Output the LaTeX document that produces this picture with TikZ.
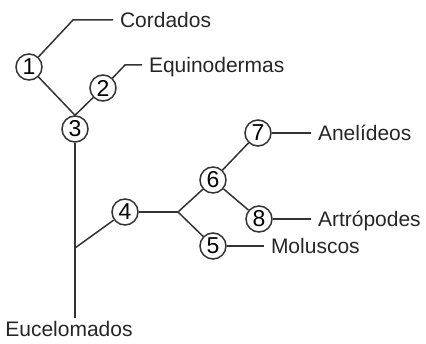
\documentclass[tikz,border=0pt]{standalone}
\usepackage{fontspec}
\setmainfont{Liberation Sans}
\usetikzlibrary{positioning}

\begin{document}
\begin{tikzpicture}[
      x=1pt, y=-1pt,
      lnk/.style={draw=black!80, line width=1.5pt},
      num/.style={circle, draw=black!80, line width=1.5pt, minimum size=26pt,
        inner sep=0pt, font=\fontsize{23}{23}\selectfont},
      grp/.style={anchor=west, inner sep=0pt, outer xsep=7pt, text height=15pt,
        text depth=0pt, font=\fontsize{21}{25}\selectfont, text=black!85}
    ]
      \useasboundingbox (0,0) rectangle (426,344);
      % numbered nodes of the tree
      \node[num] (c1) at (29, 67) {1};
      \node[num] (c2) at (103, 88) {2};
      \node[num] (c3) at (75, 129) {3};
      \node[num] (c4) at (125, 212) {4};
      \node[num] (c5) at (213, 246) {5};
      \node[num] (c6) at (213, 180) {6};
      \node[num] (c7) at (258, 133) {7};
      \node[num] (c8) at (259, 219) {8};
      \coordinate (k1) at (73, 20);
      \coordinate (k2) at (125, 65);
      \coordinate (j3) at (75, 248);
      \coordinate (j4) at (178, 212);
      % group names
      \node[grp] (cord) at (113, 20) {Cordados};
      \node[grp] (equi) at (142, 65) {Equinodermas};
      \node[grp] (anel) at (311, 133) {Anelídeos};
      \node[grp] (artr) at (311, 219) {Artrópodes};
      \node[grp] (molu) at (264, 246) {Moluscos};
      \node[grp, anchor=north, outer sep=4pt] (euce) at (69, 318) {Eucelomados};
      % branches
      \draw[lnk] (c1) -- (k1) -- (cord.west);
      \draw[lnk] (c2) -- (k2) -- (equi.west);
      \draw[lnk] (c1) -- (c3.north) -- (c2);
      \draw[lnk] (c3) -- (c3 |- euce.north);
      \draw[lnk] (j3) -- (c4);
      \draw[lnk] (c4) -- (j4);
      \draw[lnk] (j4) -- (c6);
      \draw[lnk] (j4) -- (c5);
      \draw[lnk] (c6) -- (c7);
      \draw[lnk] (c6) -- (c8);
      \draw[lnk] (c7) -- (anel.west);
      \draw[lnk] (c8) -- (artr.west);
      \draw[lnk] (c5) -- (molu.west);
    \end{tikzpicture}
\end{document}
